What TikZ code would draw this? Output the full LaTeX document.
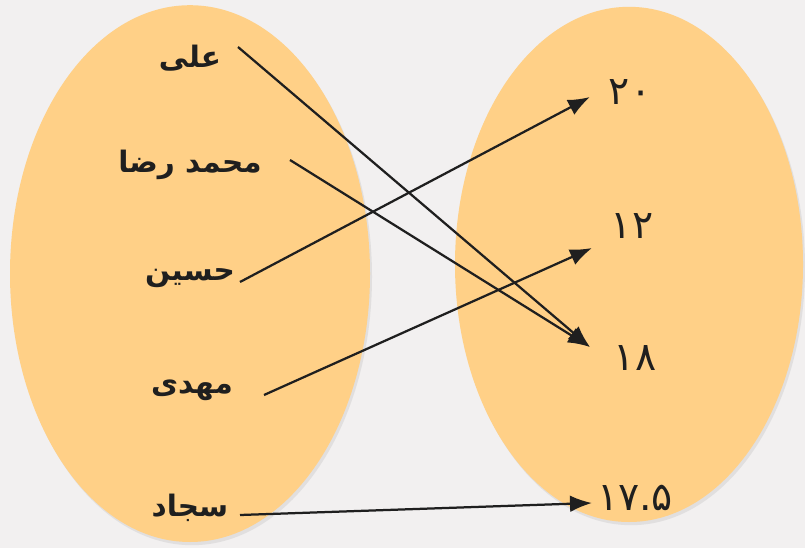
\documentclass[tikz,border=0pt]{standalone}
\usepackage{fontspec}
\usetikzlibrary{arrows.meta,shadows}
\TeXXeTstate=1
\newfontfamily\arabicfont[Script=Arabic]{DejaVu Sans}
\definecolor{bgcol}{RGB}{242,240,240}
\definecolor{setcol}{RGB}{255,208,135}

\begin{document}
\begin{tikzpicture}[
    setfill/.style={fill=setcol, drop shadow={shadow xshift=0.5mm, shadow yshift=-0.8mm, opacity=0.15}},
    namelabel/.style={font=\arabicfont\bfseries\fontsize{21}{24}\selectfont, text=black!88},
    numlabel/.style={font=\arabicfont\fontsize{28}{30}\selectfont, text=black!88},
    arrow/.style={-{Latex[length=5.5mm, width=4.2mm]}, line width=1.6pt, black!88}
]

% Background
\fill[bgcol] (0,0) rectangle (20.125,13.7);
\useasboundingbox (0,0) rectangle (20.125,13.7);

% Two sets
\path[setfill] (4.75,6.86) ellipse [x radius=4.5, y radius=6.71];
\path[setfill] (15.725,7.09) ellipse [x radius=4.35, y radius=6.44];

% Names
\node[namelabel] (ali) at (4.75,12.25) {\beginR علی\endR};
\node[namelabel] (mreza) at (4.75,9.575) {\beginR محمد رضا\endR};
\node[namelabel] (hosein) at (4.75,6.75) {\beginR حسين\endR};
\node[namelabel] (mahdi) at (4.8,3.95) {\beginR مهدی\endR};
\node[namelabel] (sajjad) at (4.75,1.0) {\beginR سجاد\endR};

% Numbers
\node[numlabel] (n20) at (15.75,11.4) {۲۰};
\node[numlabel] (n12) at (15.8,8.05) {۱۲};
\node[numlabel] (n18) at (15.875,4.75) {۱۸};
\node[numlabel] (n175) at (15.875,1.25) {۱۷.۵};

% Ports
\coordinate (ali-out) at (5.95,12.525);
\coordinate (mreza-out) at (7.25,9.7);
\coordinate (hosein-out) at (6.0,6.65);
\coordinate (mahdi-out) at (6.6,3.825);
\coordinate (sajjad-out) at (6.0,0.825);
\coordinate (n20-in) at (14.75,11.275);
\coordinate (n12-in) at (14.8,7.5);
\coordinate (n18-in) at (14.75,5.025);
\coordinate (n175-in) at (14.8,1.125);

% Arrows
\draw[arrow] (ali-out) -- (n18-in);
\draw[arrow] (mreza-out) -- (n18-in);
\draw[arrow] (hosein-out) -- (n20-in);
\draw[arrow] (mahdi-out) -- (n12-in);
\draw[arrow] (sajjad-out) -- (n175-in);

\end{tikzpicture}
\end{document}
